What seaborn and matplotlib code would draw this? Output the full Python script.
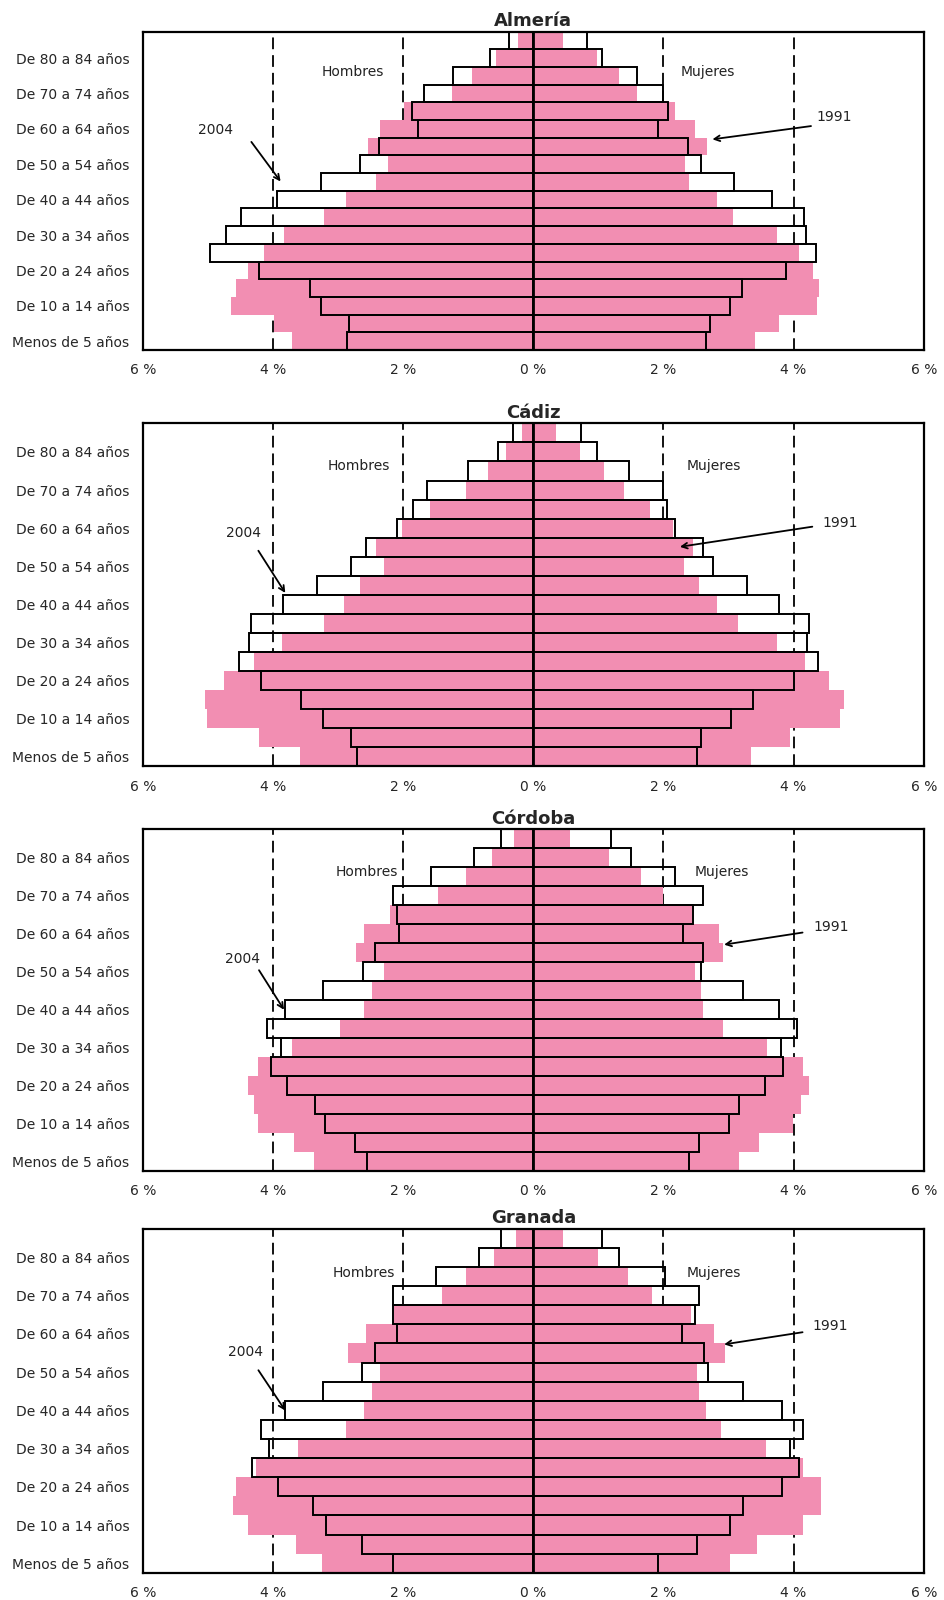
import numpy as np
import matplotlib
matplotlib.use('Agg')
import matplotlib.pyplot as plt
import seaborn as sns

# Age groups, top of the pyramid first (seaborn puts the first category on top)
ages = ['De 85 y más años', 'De 80 a 84 años', 'De 75 a 79 años', 'De 70 a 74 años',
        'De 65 a 69 años', 'De 60 a 64 años', 'De 55 a 59 años', 'De 50 a 54 años',
        'De 45 a 49 años', 'De 40 a 44 años', 'De 35 a 39 años', 'De 30 a 34 años',
        'De 25 a 29 años', 'De 20 a 24 años', 'De 15 a 19 años', 'De 10 a 14 años',
        'De 5 a 9 años', 'Menos de 5 años']

provinces = ['Almería', 'Cádiz', 'Córdoba', 'Granada']

# % of population by sex, 1991 (filled) and 2004 (outline)
almeria_m91 = [0.23, 0.57, 0.94, 1.25, 1.99, 2.36, 2.54, 2.24, 2.42, 2.88, 3.22, 3.84, 4.14, 4.38, 4.57, 4.64, 3.99, 3.71]
almeria_m04 = [0.37, 0.67, 1.23, 1.68, 1.87, 1.78, 2.37, 2.67, 3.26, 3.94, 4.49, 4.73, 4.97, 4.21, 3.44, 3.26, 2.83, 2.86]
almeria_f91 = [0.45, 0.98, 1.32, 1.59, 2.17, 2.49, 2.67, 2.33, 2.39, 2.83, 3.07, 3.75, 4.09, 4.30, 4.39, 4.36, 3.78, 3.41]
almeria_f04 = [0.83, 1.05, 1.59, 2.00, 2.07, 1.91, 2.37, 2.58, 3.09, 3.67, 4.16, 4.19, 4.35, 3.88, 3.21, 3.02, 2.71, 2.65]

cadiz_m91 = [0.18, 0.42, 0.70, 1.04, 1.59, 2.02, 2.42, 2.30, 2.67, 2.91, 3.22, 3.87, 4.30, 4.76, 5.04, 5.01, 4.21, 3.59]
cadiz_m04 = [0.31, 0.55, 1.01, 1.64, 1.85, 2.09, 2.58, 2.80, 3.32, 3.85, 4.34, 4.37, 4.52, 4.18, 3.57, 3.23, 2.80, 2.71]
cadiz_f91 = [0.35, 0.72, 1.09, 1.40, 1.80, 2.15, 2.45, 2.32, 2.54, 2.82, 3.15, 3.74, 4.17, 4.54, 4.78, 4.72, 3.95, 3.34]
cadiz_f04 = [0.73, 0.98, 1.47, 1.99, 2.05, 2.17, 2.61, 2.76, 3.29, 3.78, 4.24, 4.21, 4.37, 4.00, 3.38, 3.04, 2.58, 2.52]

cordoba_m91 = [0.29, 0.63, 1.03, 1.46, 2.20, 2.60, 2.72, 2.29, 2.48, 2.60, 2.97, 3.71, 4.23, 4.38, 4.29, 4.23, 3.68, 3.37]
cordoba_m04 = [0.49, 0.92, 1.57, 2.15, 2.09, 2.06, 2.43, 2.62, 3.23, 3.82, 4.10, 3.88, 4.03, 3.78, 3.35, 3.20, 2.74, 2.55]
cordoba_f91 = [0.57, 1.16, 1.66, 1.99, 2.44, 2.86, 2.92, 2.49, 2.58, 2.61, 2.92, 3.59, 4.15, 4.24, 4.12, 3.99, 3.47, 3.16]
cordoba_f04 = [1.19, 1.50, 2.18, 2.61, 2.46, 2.30, 2.61, 2.58, 3.23, 3.78, 4.06, 3.81, 3.84, 3.56, 3.16, 3.01, 2.55, 2.39]

granada_m91 = [0.27, 0.61, 1.04, 1.41, 2.14, 2.57, 2.85, 2.36, 2.48, 2.61, 2.88, 3.62, 4.27, 4.57, 4.61, 4.39, 3.65, 3.25]
granada_m04 = [0.49, 0.83, 1.50, 2.15, 2.15, 2.09, 2.43, 2.64, 3.23, 3.81, 4.18, 4.06, 4.33, 3.93, 3.38, 3.19, 2.64, 2.15]
granada_f91 = [0.45, 1.00, 1.46, 1.83, 2.43, 2.78, 2.94, 2.51, 2.54, 2.66, 2.88, 3.58, 4.14, 4.42, 4.42, 4.14, 3.43, 3.03]
granada_f04 = [1.05, 1.32, 2.03, 2.55, 2.49, 2.28, 2.62, 2.68, 3.23, 3.82, 4.15, 3.94, 4.09, 3.82, 3.23, 3.02, 2.52, 1.91]

data = {
    'Almería': (almeria_m91, almeria_m04, almeria_f91, almeria_f04),
    'Cádiz': (cadiz_m91, cadiz_m04, cadiz_f91, cadiz_f04),
    'Córdoba': (cordoba_m91, cordoba_m04, cordoba_f91, cordoba_f04),
    'Granada': (granada_m91, granada_m04, granada_f91, granada_f04),
}

# Layout: axes rects (fig fraction) and annotation spots (data coords)
rects = {
    'Almería': [0.1515, 0.78125, 0.827, 0.199],
    'Cádiz': [0.1515, 0.521, 0.827, 0.2144],
    'Córdoba': [0.1515, 0.268, 0.827, 0.2138],
    'Granada': [0.1515, 0.017, 0.827, 0.215],
}
notes = {
    'Almería': dict(lab_y=1.76, hx=-2.77, mx=2.68, t04=(-4.88, 5.05), a04=((-4.36, 5.61), (-3.86, 8.1)),
                    t91=(4.63, 4.31), a91=((4.31, 4.82), (2.71, 5.61))),
    'Cádiz': dict(lab_y=1.76, hx=-2.68, mx=2.77, t04=(-4.45, 5.27), a04=((-4.25, 6.06), (-3.79, 8.52)),
                  t91=(4.72, 4.75), a91=((4.33, 4.9), (2.21, 6.0))),
    'Córdoba': dict(lab_y=1.76, hx=-2.56, mx=2.89, t04=(-4.47, 6.34), a04=((-4.24, 6.8), (-3.81, 9.13)),
                    t91=(4.58, 4.66), a91=((4.18, 4.92), (2.89, 5.6))),
    'Granada': dict(lab_y=1.8, hx=-2.61, mx=2.77, t04=(-4.43, 5.94), a04=((-4.25, 6.78), (-3.79, 9.13)),
                    t91=(4.57, 4.58), a91=((4.18, 4.89), (2.89, 5.57))),
}

PINK = '#F28EB2'

sns.set_style('white')
plt.rcParams['font.family'] = ['DejaVu Sans']

fig = plt.figure(figsize=(9.44, 16), dpi=100)

for name in provinces:
    m91, m04, f91, f04 = [np.array(v) for v in data[name]]
    ax = fig.add_axes(rects[name])

    # reference lines
    for v in (-4, -2, 2, 4):
        ax.axvline(v, color='black', lw=1.3, ls=(0, (6.5, 3.3)), zorder=0.5)

    # 1991: filled pink
    sns.barplot(x=-m91, y=ages, order=ages, color=PINK, saturation=1, width=1,
                linewidth=0, errorbar=None, ax=ax)
    sns.barplot(x=f91, y=ages, order=ages, color=PINK, saturation=1, width=1,
                linewidth=0, errorbar=None, ax=ax)
    # 2004: outline only
    sns.barplot(x=-m04, y=ages, order=ages, color='black', fill=False, width=1,
                linewidth=1.4, errorbar=None, ax=ax)
    sns.barplot(x=f04, y=ages, order=ages, color='black', fill=False, width=1,
                linewidth=1.4, errorbar=None, ax=ax)
    for p in ax.patches[2 * len(ages):]:
        p.set_zorder(2)

    ax.axvline(0, color='black', lw=2, zorder=3)

    ax.set_xlim(-6, 6)
    ax.set_ylim(len(ages) - 0.5, -0.5)
    ax.set_xticks(range(-6, 7, 2))
    ax.set_xticklabels([f'{abs(v)} %' for v in range(-6, 7, 2)], fontsize=10)
    ax.set_xticks([-5, -3, -1, 1, 3, 5], minor=True)
    ax.set_yticks(range(1, len(ages), 2))
    ax.set_yticklabels(ages[1::2], fontsize=10)
    ax.tick_params(axis='x', which='major', direction='inout', length=7, width=1.2, pad=6)
    ax.tick_params(axis='x', which='minor', direction='out', length=3, width=1.2)
    ax.tick_params(axis='y', length=0, pad=10)
    ax.set_xlabel('')
    ax.set_ylabel('')
    for s in ax.spines.values():
        s.set_visible(True)
        s.set_color('black')
        s.set_linewidth(1.6)

    ax.set_title(name, fontsize=13, fontweight='bold', pad=4)

    n = notes[name]
    ax.text(n['hx'], n['lab_y'], 'Hombres', ha='center', va='center', fontsize=10, color='#222222')
    ax.text(n['mx'], n['lab_y'], 'Mujeres', ha='center', va='center', fontsize=10, color='#222222')
    ax.text(*n['t04'], '2004', ha='center', va='center', fontsize=10, color='#222222')
    ax.text(*n['t91'], '1991', ha='center', va='center', fontsize=10, color='#222222')
    ax.annotate('', xy=n['a04'][1], xytext=n['a04'][0],
                arrowprops=dict(arrowstyle='->', color='black', lw=1.3), zorder=5)
    ax.annotate('', xy=n['a91'][1], xytext=n['a91'][0],
                arrowprops=dict(arrowstyle='->', color='black', lw=1.3), zorder=5)

fig.savefig('out.png', dpi=100)
